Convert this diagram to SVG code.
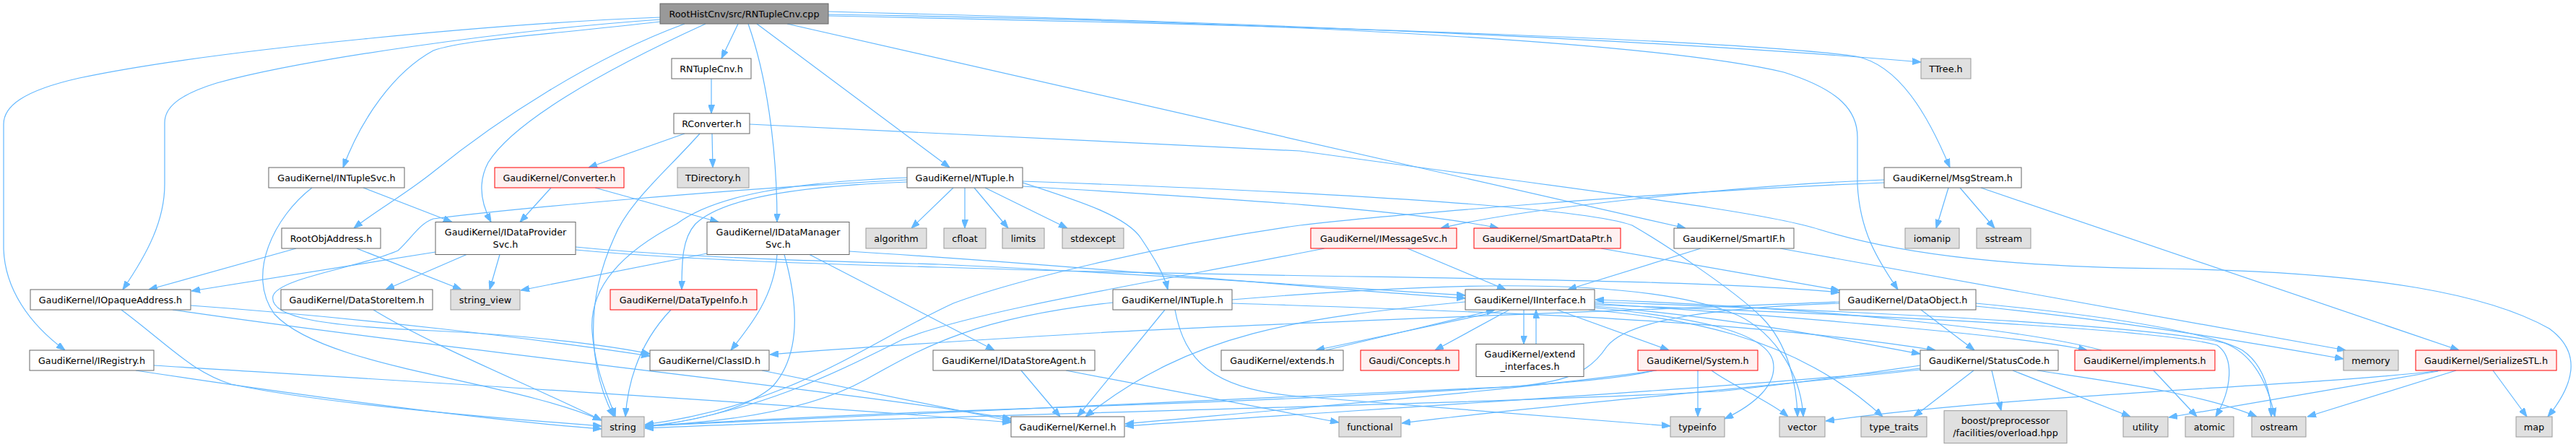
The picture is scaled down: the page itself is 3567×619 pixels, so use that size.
<svg xmlns="http://www.w3.org/2000/svg" width="3567" height="619" viewBox="0 0 3567 619">
<defs>
<style>
.n rect{fill:#ffffff;stroke:#666666;stroke-width:1}
.g rect{fill:#e0e0e0;stroke:#999999;stroke-width:1}
.r rect{fill:#fff0f0;stroke:#ff0000;stroke-width:1}
.root rect{fill:#999999;stroke:#666666;stroke-width:1}
text{font-family:"DejaVu Sans","Liberation Sans",sans-serif;font-size:12.75px;fill:#000000;text-anchor:middle}
#edges path{fill:none;stroke:#63b8ff;stroke-width:1.2;marker-end:url(#a)}
</style>
<marker id="a" markerWidth="12" markerHeight="9" refX="12" refY="4.5" orient="auto" markerUnits="userSpaceOnUse"><path d="M0,0 L12,4.5 L0,9 z" fill="#63b8ff" stroke="#63b8ff" stroke-width="1"/></marker>
</defs>
<rect x="0" y="0" width="3567" height="619" fill="#ffffff"/>
<g id="edges">
<path d="M914,24 C700,32 300,68 110,108 C30,126 5,148 5,172 L5,345 C7,400 40,448 90,485"/>
<path d="M914,27 C700,42 420,82 300,115 C245,132 228,150 228,170 L228,255 C228,305 205,350 170,401"/>
<path d="M914,30 C760,48 640,55 600,70 C545,100 500,165 475,232"/>
<path d="M948,33 C820,80 690,165 600,238 C560,270 520,292 490,316"/>
<path d="M977,33 C830,100 710,170 676,225 C660,255 668,285 680,307.5"/>
<path d="M1022,33 L999,81"/>
<path d="M1036,33 C1060,100 1076,200 1076,307.5"/>
<path d="M1048,33 L1315,232"/>
<path d="M1090,33 L2334,316"/>
<path d="M1147,20 C1800,30 2300,60 2470,100 C2550,125 2572,155 2572,190 L2572,255 C2575,320 2600,360 2628,401"/>
<path d="M1147,16 C1700,30 2300,55 2660,86"/>
<path d="M1147,22 C1800,35 2400,55 2570,78 C2630,90 2670,160 2700,232"/>
<path d="M985,109 L985,157"/>
<path d="M948,185 L815,232"/>
<path d="M986,185 L987,232"/>
<path d="M969,185 C920,240 870,280 850,330 C805,430 820,520 850,577"/>
<path d="M1038,172 L1800,209 C2200,265 2440,292 2520,318 C2640,355 2800,370 3000,372 C3300,377 3450,410 3530,455 C3578,490 3562,535 3528,577"/>
<path d="M763,260 L720,307.5"/>
<path d="M824,260 L995,307.5"/>
<path d="M503,260 L626,307.5"/>
<path d="M432,260 C380,300 340,380 380,435 C450,510 700,525 833,582"/>
<path d="M410,344 L206,401"/>
<path d="M494,344 L639,401"/>
<path d="M603,349 L265,403"/>
<path d="M646,352.5 L534,401"/>
<path d="M692,352.5 L678,401"/>
<path d="M797,342 C950,357 1150,362 1300,366 C1600,380 1850,398 2029,409"/>
<path d="M797,346 C950,360 1150,366 1300,370 C1800,387 2300,382 2547,405"/>
<path d="M1076,352.5 C1072,410 1040,450 1012,485"/>
<path d="M1086,352.5 C1105,420 1110,490 1070,535 C1030,570 950,585 893,590"/>
<path d="M1121,352.5 L1377,485"/>
<path d="M979,351 L721,402"/>
<path d="M1176,348 C1500,368 1800,398 2029,413"/>
<path d="M1320,260 L1262,316"/>
<path d="M1336,260 L1336,316"/>
<path d="M1349,260 L1396,316"/>
<path d="M1364,260 L1478,316"/>
<path d="M1416,253 C1500,280 1560,300 1580,330 C1600,360 1612,380 1617,401"/>
<path d="M1256,246 C1100,252 990,270 937,310 C860,350 815,400 820,460 C825,520 845,555 852,577"/>
<path d="M1256,252 C1100,258 1000,275 963,310 C945,330 944,360 944,401"/>
<path d="M1256,249 C1000,262 700,290 600,303 C580,310 570,330 551,347 C500,370 385,385 378,410 C372,440 450,452 600,458 C750,465 850,480 900,490"/>
<path d="M1416,258 C1700,275 1950,290 2075,316"/>
<path d="M1416,251 C1900,268 2200,290 2260,312 C2300,335 2400,400 2440,440 C2475,475 2488,530 2489,577"/>
<path d="M2698,260 L2681,316"/>
<path d="M2714,260 L2762,316"/>
<path d="M2743,260 L3405,485"/>
<path d="M2609,249 C2400,257 2100,290 1995,316"/>
<path d="M2609,253 C2300,265 1900,300 1800,312 C1600,340 1400,390 1320,420 C1200,475 1100,560 893,588"/>
<path d="M1949,344 L2085,401"/>
<path d="M1834,344 C1600,390 1350,430 1250,470 C1150,520 1050,570 893,592"/>
<path d="M2217,344 L2547,402"/>
<path d="M2355,344 L2171,401"/>
<path d="M2465,344 L3248,485"/>
<path d="M1613,429 L1492,577"/>
<path d="M1627,429 C1640,500 1680,540 1800,549 C2000,565 2200,580 2313,590"/>
<path d="M1541,419 C1350,440 1280,480 1200,525 C1120,570 1000,585 893,590"/>
<path d="M1706,420 C2000,430 2400,440 2680,485"/>
<path d="M1706,415 C1950,395 2250,378 2395,432 C2450,452 2493,510 2497,577"/>
<path d="M2029,418 C1800,440 1650,460 1503,577"/>
<path d="M2090,429 L1987,485"/>
<path d="M2110,429 L2110,476.5"/>
<path d="M2127,476.5 L2127,429"/>
<path d="M2156,429 L2311,485"/>
<path d="M2086,429 L1822,485"/>
<path d="M1836,485 L2070,429"/>
<path d="M2208,420 C2500,440 2800,465 2890,485"/>
<path d="M2910,485 C2800,455 2500,425 2209,415"/>
<path d="M2208,424 C2400,440 2550,470 2659,490"/>
<path d="M2208,418 C2700,435 3000,455 3080,475 C3120,490 3140,530 3150,577"/>
<path d="M2208,422 C2700,440 3000,458 3070,478 C3095,495 3090,540 3068,577"/>
<path d="M2200,429 C2320,440 2480,460 2607,577"/>
<path d="M2208,426 C2350,440 2445,460 2455,500 C2462,532 2430,560 2388,580"/>
<path d="M2351,513 L2351,577"/>
<path d="M2294,513 C2100,540 1800,565 1558,587"/>
<path d="M2290,513 C2200,540 1600,560 1300,570 C1100,578 980,585 893,590"/>
<path d="M2370,513 C2400,535 2450,555 2476,577"/>
<path d="M2659,506 C2550,522 2450,535 2380,542 C2000,562 1300,574 893,593"/>
<path d="M2659,510 C2500,530 2000,560 1558,590"/>
<path d="M2733,513 L2650,577"/>
<path d="M2758,513 L2771,568.7"/>
<path d="M2787,513 L2950,577"/>
<path d="M2821,513 C2920,528 3050,545 3125,577"/>
<path d="M2659,512 C2400,540 2100,565 1941,586"/>
<path d="M2660,429 L2734,485"/>
<path d="M2547,418 C2200,432 1700,450 1500,462 C1300,474 1150,484 1066,491"/>
<path d="M2547,420 C2350,427 2250,447 2225,480 C2205,510 2180,528 2100,535 C1700,555 1300,572 893,590"/>
<path d="M2736,424 C2950,445 3150,480 3245,497"/>
<path d="M2736,420 C2950,440 3070,465 3105,485 C3135,505 3145,545 3145,577"/>
<path d="M2982,513 L3042,577"/>
<path d="M3452,513 L3499,577"/>
<path d="M3401,513 L3195,577"/>
<path d="M3380,513 C3200,535 2800,545 2528,583"/>
<path d="M3376,514 L3003,578"/>
<path d="M264,423 C500,440 750,470 900,493"/>
<path d="M239,429 C600,482 1200,545 1400,580"/>
<path d="M168,429 C230,475 265,515 320,532 C450,560 700,580 833,590"/>
<path d="M213,506 C600,530 1100,560 1400,585"/>
<path d="M188,513 C400,545 650,580 833,594"/>
<path d="M1055,513 L1400,583"/>
<path d="M517,429 C600,480 750,540 833,582"/>
<path d="M929,429 C890,470 870,520 866,577"/>
<path d="M1414,513 L1468,577"/>
<path d="M1476,513 L1854,585"/>
</g>
<g id="nodes">
<g id="n_root" class="root"><rect x="914" y="5" width="233" height="28"/><text x="1030.5" y="23.6">RootHistCnv/src/RNTupleCnv.cpp</text></g>
<g id="n_rntuplecnv" class="n"><rect x="930" y="81" width="110" height="28"/><text x="985" y="99.6">RNTupleCnv.h</text></g>
<g id="n_ttree" class="g"><rect x="2660" y="81" width="69" height="28"/><text x="2694.5" y="99.6">TTree.h</text></g>
<g id="n_rconverter" class="n"><rect x="933" y="157" width="105" height="28"/><text x="985.5" y="175.6">RConverter.h</text></g>
<g id="n_intuplesvc" class="n"><rect x="372" y="232" width="188" height="28"/><text x="466" y="250.6">GaudiKernel/INTupleSvc.h</text></g>
<g id="n_converter" class="r"><rect x="685" y="232" width="179" height="28"/><text x="774.5" y="250.6">GaudiKernel/Converter.h</text></g>
<g id="n_tdirectory" class="g"><rect x="938" y="232" width="99" height="28"/><text x="987.5" y="250.6">TDirectory.h</text></g>
<g id="n_ntuple" class="n"><rect x="1256" y="232" width="160" height="28"/><text x="1336" y="250.6">GaudiKernel/NTuple.h</text></g>
<g id="n_msgstream" class="n"><rect x="2609" y="232" width="190" height="28"/><text x="2704" y="250.6">GaudiKernel/MsgStream.h</text></g>
<g id="n_rootobjaddress" class="n"><rect x="390" y="316" width="137" height="28"/><text x="458.5" y="334.6">RootObjAddress.h</text></g>
<g id="n_idataprovidersvc" class="n"><rect x="603" y="307.5" width="194" height="45"/><text x="700" y="326.3">GaudiKernel/IDataProvider</text><text x="700" y="343">Svc.h</text></g>
<g id="n_idatamanagersvc" class="n"><rect x="979" y="307.5" width="197" height="45"/><text x="1077.5" y="326.3">GaudiKernel/IDataManager</text><text x="1077.5" y="343">Svc.h</text></g>
<g id="n_algorithm" class="g"><rect x="1199" y="316" width="84" height="28"/><text x="1241" y="334.6">algorithm</text></g>
<g id="n_cfloat" class="g"><rect x="1307" y="316" width="58" height="28"/><text x="1336" y="334.6">cfloat</text></g>
<g id="n_limits" class="g"><rect x="1388" y="316" width="58" height="28"/><text x="1417" y="334.6">limits</text></g>
<g id="n_stdexcept" class="g"><rect x="1471" y="316" width="85" height="28"/><text x="1513.5" y="334.6">stdexcept</text></g>
<g id="n_imessagesvc" class="r"><rect x="1815" y="316" width="202" height="28"/><text x="1916" y="334.6">GaudiKernel/IMessageSvc.h</text></g>
<g id="n_smartdataptr" class="r"><rect x="2041" y="316" width="203" height="28"/><text x="2142.5" y="334.6">GaudiKernel/SmartDataPtr.h</text></g>
<g id="n_smartif" class="n"><rect x="2318" y="316" width="166" height="28"/><text x="2401" y="334.6">GaudiKernel/SmartIF.h</text></g>
<g id="n_iomanip" class="g"><rect x="2638" y="316" width="75" height="28"/><text x="2675.5" y="334.6">iomanip</text></g>
<g id="n_sstream" class="g"><rect x="2737" y="316" width="75" height="28"/><text x="2774.5" y="334.6">sstream</text></g>
<g id="n_iopaqueaddress" class="n"><rect x="42" y="401" width="222" height="28"/><text x="153" y="419.6">GaudiKernel/IOpaqueAddress.h</text></g>
<g id="n_datastoreitem" class="n"><rect x="389" y="401" width="210" height="28"/><text x="494" y="419.6">GaudiKernel/DataStoreItem.h</text></g>
<g id="n_string_view" class="g"><rect x="624" y="401" width="96" height="28"/><text x="672" y="419.6">string_view</text></g>
<g id="n_datatypeinfo" class="r"><rect x="845" y="401" width="203" height="28"/><text x="946.5" y="419.6">GaudiKernel/DataTypeInfo.h</text></g>
<g id="n_intuple" class="n"><rect x="1541" y="401" width="165" height="28"/><text x="1623.5" y="419.6">GaudiKernel/INTuple.h</text></g>
<g id="n_iinterface" class="n"><rect x="2029" y="401" width="179" height="28"/><text x="2118.5" y="419.6">GaudiKernel/IInterface.h</text></g>
<g id="n_dataobject" class="n"><rect x="2547" y="401" width="189" height="28"/><text x="2641.5" y="419.6">GaudiKernel/DataObject.h</text></g>
<g id="n_iregistry" class="n"><rect x="41" y="485" width="172" height="28"/><text x="127" y="503.6">GaudiKernel/IRegistry.h</text></g>
<g id="n_classid" class="n"><rect x="900" y="485" width="165" height="28"/><text x="982.5" y="503.6">GaudiKernel/ClassID.h</text></g>
<g id="n_idatastoreagent" class="n"><rect x="1292" y="485" width="224" height="28"/><text x="1404" y="503.6">GaudiKernel/IDataStoreAgent.h</text></g>
<g id="n_extends" class="n"><rect x="1691" y="485" width="169" height="28"/><text x="1775.5" y="503.6">GaudiKernel/extends.h</text></g>
<g id="n_concepts" class="r"><rect x="1884" y="485" width="136" height="28"/><text x="1952" y="503.6">Gaudi/Concepts.h</text></g>
<g id="n_extend_interfaces" class="n"><rect x="2044" y="476.5" width="149" height="45"/><text x="2118.5" y="495.3">GaudiKernel/extend</text><text x="2118.5" y="512">_interfaces.h</text></g>
<g id="n_system" class="r"><rect x="2268" y="485" width="166" height="28"/><text x="2351" y="503.6">GaudiKernel/System.h</text></g>
<g id="n_statuscode" class="n"><rect x="2659" y="485" width="191" height="28"/><text x="2754.5" y="503.6">GaudiKernel/StatusCode.h</text></g>
<g id="n_implements" class="r"><rect x="2873" y="485" width="194" height="28"/><text x="2970" y="503.6">GaudiKernel/implements.h</text></g>
<g id="n_memory" class="g"><rect x="3245" y="485" width="76" height="28"/><text x="3283" y="503.6">memory</text></g>
<g id="n_serializestl" class="r"><rect x="3345" y="485" width="195" height="28"/><text x="3442.5" y="503.6">GaudiKernel/SerializeSTL.h</text></g>
<g id="n_string" class="g"><rect x="833" y="577" width="59" height="28"/><text x="862.5" y="595.6">string</text></g>
<g id="n_kernel" class="n"><rect x="1400" y="577" width="157" height="28"/><text x="1478.5" y="595.6">GaudiKernel/Kernel.h</text></g>
<g id="n_functional" class="g"><rect x="1854" y="577" width="86" height="28"/><text x="1897" y="595.6">functional</text></g>
<g id="n_typeinfo" class="g"><rect x="2313" y="577" width="75" height="28"/><text x="2350.5" y="595.6">typeinfo</text></g>
<g id="n_vector" class="g"><rect x="2464" y="577" width="63" height="28"/><text x="2495.5" y="595.6">vector</text></g>
<g id="n_type_traits" class="g"><rect x="2577" y="577" width="91" height="28"/><text x="2622.5" y="595.6">type_traits</text></g>
<g id="n_boost" class="g"><rect x="2692" y="568.7" width="170" height="45"/><text x="2777" y="587.4">boost/preprocessor</text><text x="2777" y="604.1">/facilities/overload.hpp</text></g>
<g id="n_utility" class="g"><rect x="2940" y="577" width="62" height="28"/><text x="2971" y="595.6">utility</text></g>
<g id="n_atomic" class="g"><rect x="3026" y="577" width="67" height="28"/><text x="3059.5" y="595.6">atomic</text></g>
<g id="n_ostream" class="g"><rect x="3118" y="577" width="75" height="28"/><text x="3155.5" y="595.6">ostream</text></g>
<g id="n_map" class="g"><rect x="3484" y="577" width="50" height="28"/><text x="3509" y="595.6">map</text></g>
</g>
</svg>
